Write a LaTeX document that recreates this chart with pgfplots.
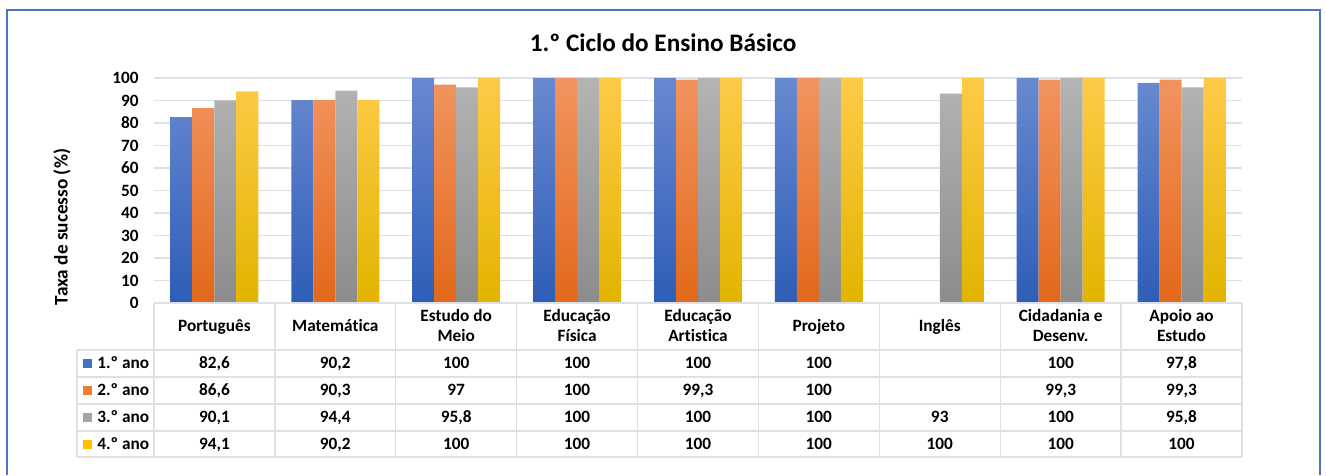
\documentclass[border=0pt]{standalone}
\usepackage{fontspec}
\setmainfont{Carlito}[Ligatures=NoCommon]
\usepackage{pgfplots}
\pgfplotsset{compat=1.18}

% frame, grid and table lines
\definecolor{frameblue}{HTML}{4A76C8}
\definecolor{gridgray}{HTML}{DDE1E7}
% bar gradients (top / bottom)
\definecolor{blueT}{HTML}{6889D0}
\definecolor{blueB}{HTML}{2E5DB7}
\definecolor{oranT}{HTML}{F29460}
\definecolor{oranB}{HTML}{E2681A}
\definecolor{grayT}{HTML}{B4B4B4}
\definecolor{grayB}{HTML}{8C8C8C}
\definecolor{yellT}{HTML}{FFCA48}
\definecolor{yellB}{HTML}{E2B400}
% legend keys
\definecolor{blueK}{HTML}{4472C4}
\definecolor{oranK}{HTML}{ED7D31}
\definecolor{grayK}{HTML}{A5A5A5}
\definecolor{yellK}{HTML}{FFC000}

\newcommand{\tabfont}{\bfseries\fontsize{13}{15.5}\selectfont}

\begin{document}
\begin{tikzpicture}[x=0.75bp,y=0.75bp]
\useasboundingbox (0,0) rectangle (1326,475);
\draw[frameblue, line width=1.5bp] (7,0) -- (7,465) -- (1320,465) -- (1320,0);
\node[font=\bfseries\fontsize{19}{22}\selectfont] at (663,432) {1.º Ciclo do Ensino Básico};
\node[font=\bfseries\fontsize{14.5}{17}\selectfont, rotate=90] at (62,248) {Taxa de sucesso (\%)};

\begin{axis}[
  at={(115.5bp,129bp)}, anchor=south west,
  width=816bp, height=168.75bp, scale only axis,
  xmin=-0.5, xmax=8.5, ymin=0, ymax=100,
  ybar=0pt, bar width=16.5bp,
  xtick=\empty, ytick={0,10,...,100},
  ymajorgrids, grid style={gridgray, line width=1bp},
  axis line style={draw=none}, tick style={draw=none},
  yticklabel style={font=\tabfont, xshift=-8bp},
  /pgf/number format/assume math mode=true,
  clip=false,
]
\addplot[draw=none, top color=blueT, bottom color=blueB] coordinates
  {(0,82.6) (1,90.2) (2,100) (3,100) (4,100) (5,100) (7,100) (8,97.8)};
\addplot[draw=none, top color=oranT, bottom color=oranB] coordinates
  {(0,86.6) (1,90.3) (2,97) (3,100) (4,99.3) (5,100) (7,99.3) (8,99.3)};
\addplot[draw=none, top color=grayT, bottom color=grayB] coordinates
  {(0,90.1) (1,94.4) (2,95.8) (3,100) (4,100) (5,100) (6,93) (7,100) (8,95.8)};
\addplot[draw=none, top color=yellT, bottom color=yellB] coordinates
  {(0,94.1) (1,90.2) (2,100) (3,100) (4,100) (5,100) (6,100) (7,100) (8,100)};
\end{axis}

% data table
\begin{scope}[gridgray, line width=1bp]
  \draw (154,172) -- (1242,172);
  \foreach \yy in {125,98,71,44,18} \draw (77,\yy) -- (1242,\yy);
  \draw (77,125) -- (77,18);
  \foreach \k in {0,...,9} \draw ({154+\k*120.889},172) -- ({154+\k*120.889},18);
\end{scope}

\foreach \name [count=\i from 0] in {\strut Português, \strut Matemática,
    {\strut Estudo do\\\strut Meio}, {\strut Educação\\\strut Física},
    {\strut Educação\\\strut Artistica}, \strut Projeto, \strut Inglês,
    {\strut Cidadania e\\\strut Desenv.}, {\strut Apoio ao\\\strut Estudo}}
  \node[font=\tabfont, align=center, inner sep=0] at ({214.4+\i*120.889},147.5) {\name};

\foreach \c/\lab/\yy in {blueK/1.º ano/111.5, oranK/2.º ano/84.5,
    grayK/3.º ano/57.5, yellK/4.º ano/31} {
  \fill[\c] (83,{\yy-4.5}) rectangle +(9,9);
  \node[anchor=west, font=\tabfont, inner sep=0, text height=8bp, text depth=0bp] at (97,\yy) {\lab};
}

\tikzset{cell/.style={font=\tabfont, inner sep=0, text height=8bp, text depth=0bp}}
\foreach \v [count=\i from 0] in {{82,6},{90,2},100,100,100,100,{},100,{97,8}}
  \node[cell] at ({214.4+\i*120.889},111.5) {\v};
\foreach \v [count=\i from 0] in {{86,6},{90,3},97,100,{99,3},100,{},{99,3},{99,3}}
  \node[cell] at ({214.4+\i*120.889},84.5) {\v};
\foreach \v [count=\i from 0] in {{90,1},{94,4},{95,8},100,100,100,93,100,{95,8}}
  \node[cell] at ({214.4+\i*120.889},57.5) {\v};
\foreach \v [count=\i from 0] in {{94,1},{90,2},100,100,100,100,100,100,100}
  \node[cell] at ({214.4+\i*120.889},31) {\v};
\end{tikzpicture}
\end{document}
